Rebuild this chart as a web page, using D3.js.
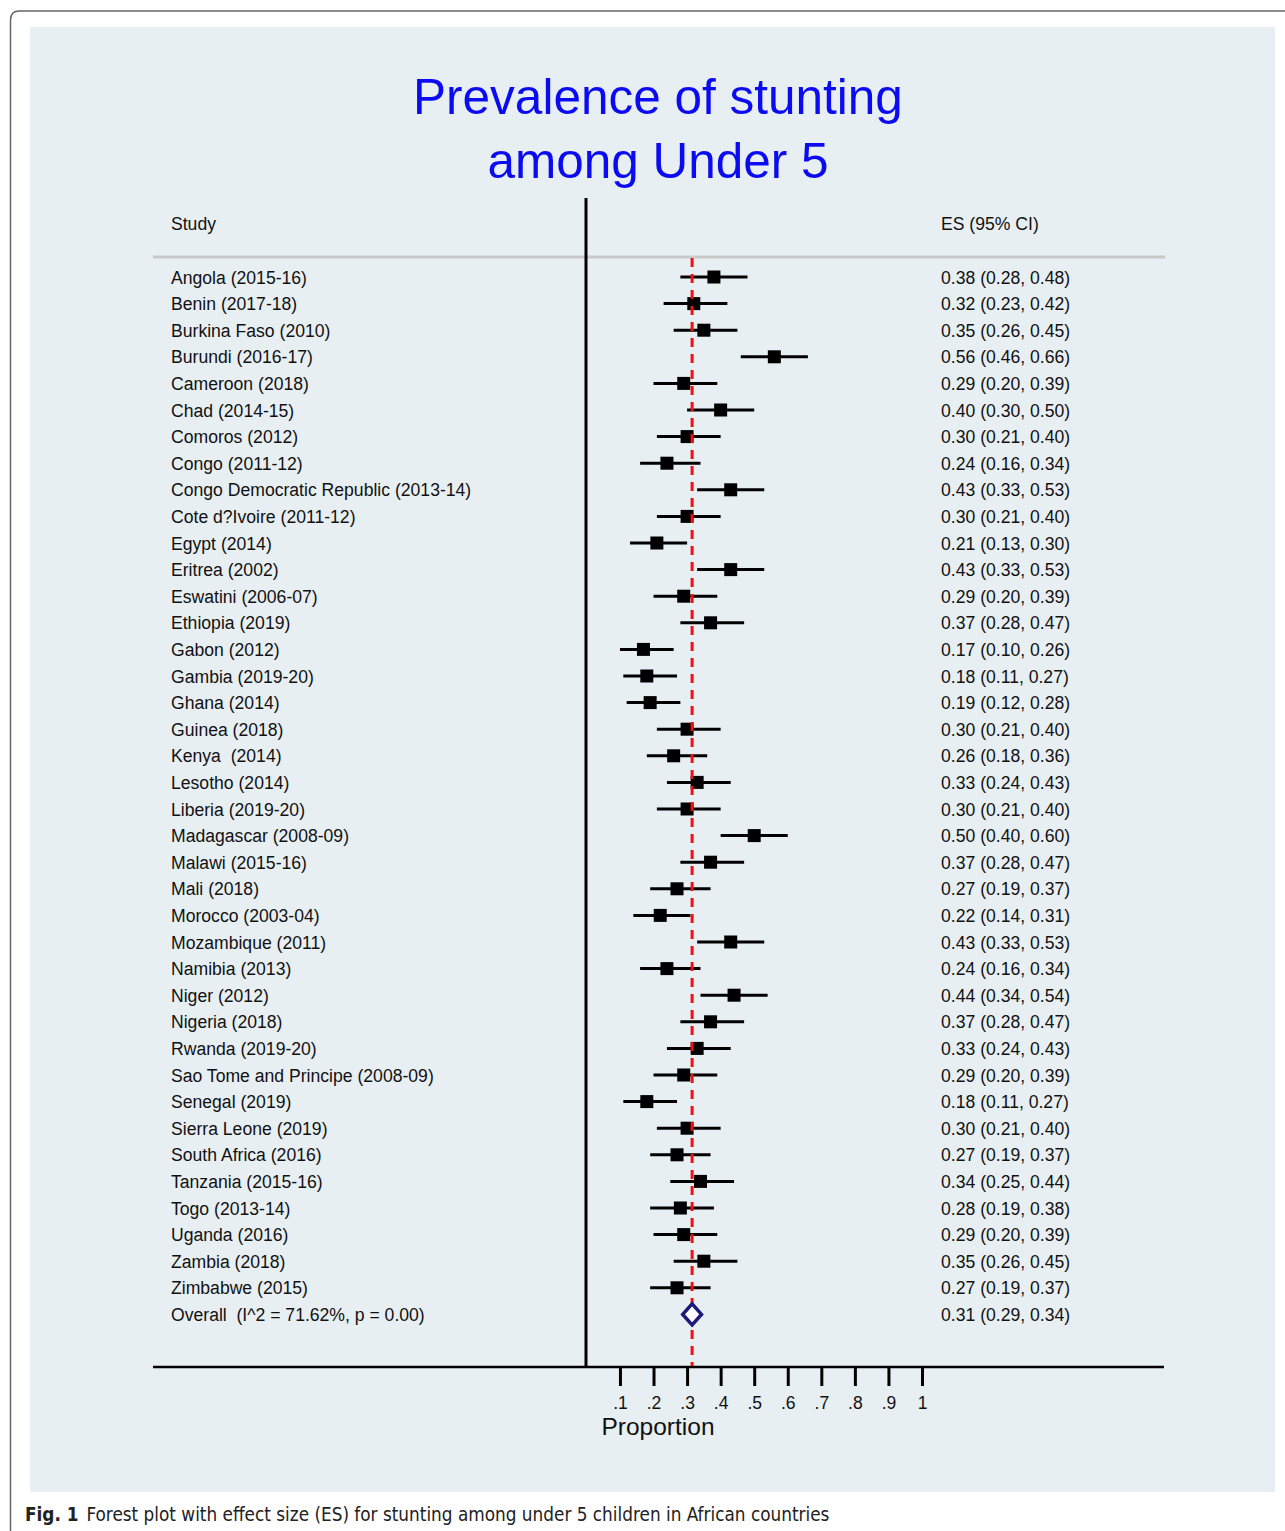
<!DOCTYPE html>
<html><head><meta charset="utf-8">
<script src="https://cdn.jsdelivr.net/npm/d3@7"></script>
<style>body{margin:0;background:#fff}svg{display:block}text{white-space:pre}</style>
</head><body>
<script>
const studies = ["Angola (2015-16)","Benin (2017-18)","Burkina Faso (2010)","Burundi (2016-17)","Cameroon (2018)","Chad (2014-15)","Comoros (2012)","Congo (2011-12)","Congo Democratic Republic (2013-14)","Cote d?Ivoire (2011-12)","Egypt (2014)","Eritrea (2002)","Eswatini (2006-07)","Ethiopia (2019)","Gabon (2012)","Gambia (2019-20)","Ghana (2014)","Guinea (2018)","Kenya  (2014)","Lesotho (2014)","Liberia (2019-20)","Madagascar (2008-09)","Malawi (2015-16)","Mali (2018)","Morocco (2003-04)","Mozambique (2011)","Namibia (2013)","Niger (2012)","Nigeria (2018)","Rwanda (2019-20)","Sao Tome and Principe (2008-09)","Senegal (2019)","Sierra Leone (2019)","South Africa (2016)","Tanzania (2015-16)","Togo (2013-14)","Uganda (2016)","Zambia (2018)","Zimbabwe (2015)"];
const es    = [0.38,0.32,0.35,0.56,0.29,0.40,0.30,0.24,0.43,0.30,0.21,0.43,0.29,0.37,0.17,0.18,0.19,0.30,0.26,0.33,0.30,0.50,0.37,0.27,0.22,0.43,0.24,0.44,0.37,0.33,0.29,0.18,0.30,0.27,0.34,0.28,0.29,0.35,0.27];
const lower = [0.28,0.23,0.26,0.46,0.20,0.30,0.21,0.16,0.33,0.21,0.13,0.33,0.20,0.28,0.10,0.11,0.12,0.21,0.18,0.24,0.21,0.40,0.28,0.19,0.14,0.33,0.16,0.34,0.28,0.24,0.20,0.11,0.21,0.19,0.25,0.19,0.20,0.26,0.19];
const upper = [0.48,0.42,0.45,0.66,0.39,0.50,0.40,0.34,0.53,0.40,0.30,0.53,0.39,0.47,0.26,0.27,0.28,0.40,0.36,0.43,0.40,0.60,0.47,0.37,0.31,0.53,0.34,0.54,0.47,0.43,0.39,0.27,0.40,0.37,0.44,0.38,0.39,0.45,0.37];
const overallLabel = "Overall  (I^2 = 71.62%, p = 0.00)";
const overall = {es:0.315, lower:0.29, upper:0.34, text:"0.31 (0.29, 0.34)"};
const tickValues = [0.1,0.2,0.3,0.4,0.5,0.6,0.7,0.8,0.9,1];
const tickLabels = [".1",".2",".3",".4",".5",".6",".7",".8",".9","1"];
const titleLines = ["Prevalence of stunting","among Under 5"];

const W=1285,H=1531;
const svg=d3.select("body").append("svg").attr("width",W).attr("height",H);
const font="'Liberation Sans', Arial, Helvetica, sans-serif";
const fs=17.6;

// outer frame
svg.append("path").attr("d","M10.5,1540 L10.5,20 Q10.5,11 19.5,11 L1295,11")
  .attr("fill","none").attr("stroke","#666").attr("stroke-width",1.5);
// panel
svg.append("rect").attr("x",30).attr("y",27).attr("width",1245).attr("height",1465).attr("fill","#e8eff3");

// title
svg.append("g").selectAll("text").data(titleLines).join("text")
  .attr("x",658).attr("y",(d,i)=>114+i*64).attr("text-anchor","middle")
  .attr("font-family",font).attr("font-size",49.5).attr("fill","#0b0bf2").text(d=>d);

const x=d3.scaleLinear().domain([0,1]).range([586.4,922]);
const rowY=i=>277+i*26.6;
const overallY=rowY(studies.length);

// headers
svg.append("text").attr("x",171).attr("y",230).attr("font-family",font).attr("font-size",fs).attr("fill","#111").text("Study");
svg.append("text").attr("x",941).attr("y",230).attr("font-family",font).attr("font-size",fs).attr("fill","#111").text("ES (95% CI)");
svg.append("line").attr("x1",153).attr("x2",1165).attr("y1",257).attr("y2",257).attr("stroke","#c9c9c9").attr("stroke-width",3);

// labels
const g=svg.append("g").attr("font-family",font).attr("font-size",fs).attr("fill","#111");
g.selectAll("text.st").data(studies).join("text").attr("class","st").attr("x",171).attr("y",(d,i)=>rowY(i)+6.5).text(d=>d);
g.selectAll("text.es").data(studies).join("text").attr("class","es").attr("x",941).attr("y",(d,i)=>rowY(i)+6.5)
  .text((d,i)=>`${es[i].toFixed(2)} (${lower[i].toFixed(2)}, ${upper[i].toFixed(2)})`);
g.append("text").attr("x",171).attr("y",overallY+6.5).text(overallLabel);
g.append("text").attr("x",941).attr("y",overallY+6.5).text(overall.text);

// CI lines & boxes
const m=svg.append("g");
m.selectAll("line.ci").data(studies).join("line").attr("class","ci")
  .attr("x1",(d,i)=>x(lower[i])).attr("x2",(d,i)=>x(upper[i]))
  .attr("y1",(d,i)=>rowY(i)).attr("y2",(d,i)=>rowY(i)).attr("stroke","#000").attr("stroke-width",3);
m.selectAll("rect.bx").data(studies).join("rect").attr("class","bx")
  .attr("x",(d,i)=>x(es[i])-6.5).attr("y",(d,i)=>rowY(i)-6.5).attr("width",13).attr("height",13).attr("fill","#000");

// vertical line at 0 and axis
svg.append("line").attr("x1",586).attr("x2",586).attr("y1",198).attr("y2",1368).attr("stroke","#000").attr("stroke-width",3);
svg.append("line").attr("x1",153).attr("x2",1164).attr("y1",1367).attr("y2",1367).attr("stroke","#000").attr("stroke-width",2.5);

const axis=d3.axisBottom(x).tickValues(tickValues).tickFormat((d,i)=>tickLabels[i]).tickSize(19).tickPadding(11);
const ag=svg.append("g").attr("transform","translate(0,1367)").call(axis);
ag.select(".domain").remove();
ag.selectAll(".tick line").attr("stroke","#000").attr("stroke-width",3);
ag.selectAll(".tick text").attr("font-family",font).attr("font-size",17.5).attr("fill","#111");
svg.append("text").attr("x",658).attr("y",1435).attr("text-anchor","middle").attr("font-family",font).attr("font-size",24.5).attr("fill","#111").text("Proportion");

// red dashed overall line
svg.append("line").attr("x1",x(overall.es)).attr("x2",x(overall.es)).attr("y1",258).attr("y2",1366)
  .attr("stroke","#f01010").attr("stroke-width",3).attr("stroke-dasharray","9,7");

// diamond
const dh=10.5;
svg.append("path").attr("d",`M${x(overall.lower)-1},${overallY} L${x(overall.es)},${overallY-dh} L${x(overall.upper)+1},${overallY} L${x(overall.es)},${overallY+dh} Z`)
  .attr("fill","#fff").attr("stroke","#1c1c78").attr("stroke-width",3.5);

// caption
const cap=svg.append("text").attr("x",25).attr("y",1521).attr("font-family","'Liberation Sans Narrow','DejaVu Sans Condensed','Open Sans',sans-serif").attr("font-size",18.8).attr("fill","#222");
cap.append("tspan").attr("font-weight","bold").text("Fig. 1");
cap.append("tspan").attr("dx",8).text("Forest plot with effect size (ES) for stunting among under 5 children in African countries");
</script>
</body></html>
